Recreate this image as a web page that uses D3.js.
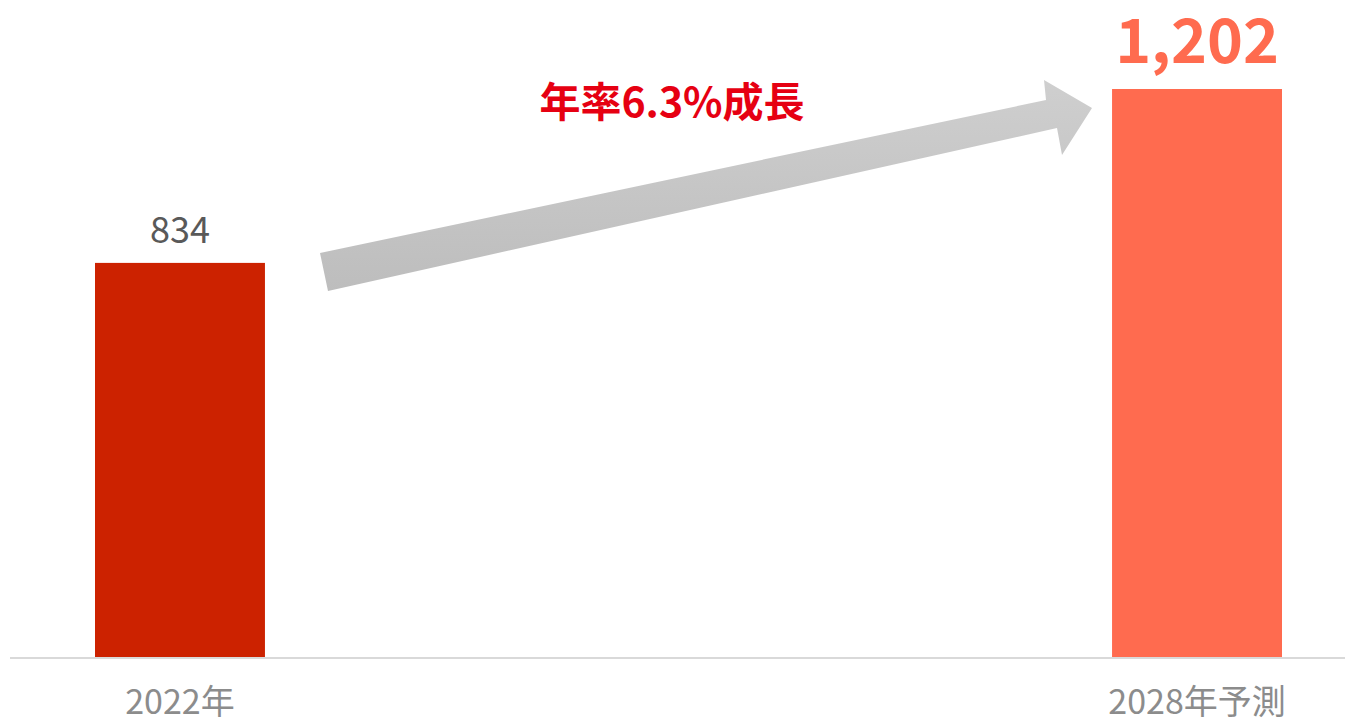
<!DOCTYPE html>
<html><head><meta charset="utf-8">
<script src="https://cdn.jsdelivr.net/npm/d3@7"></script>
<style>body{margin:0;background:#fff;}svg{display:block;}</style>
</head><body>
<svg id="c" width="1345" height="719"></svg>
<script>
const categories = ["2022年", "2028年予測"];
const values = [834, 1202];
const valueLabels = ["834", "1,202"];
const barColors = ["#CC2200", "#FF6B4F"];
const growthLabel = "年率6.3%成長";

const svg = d3.select("#c");
const font = "'Noto Sans CJK JP', 'Noto Sans', sans-serif";

const x = d3.scaleBand().domain(categories).range([95, 1282]).paddingInner(0.8329).paddingOuter(0);
const y = d3.scaleLinear().domain([0, 1202]).range([657, 89]);

const defs = svg.append("defs");
const g = defs.append("linearGradient").attr("id","ag").attr("x1","0").attr("y1","0").attr("x2","0").attr("y2","1");
g.append("stop").attr("offset","0").attr("stop-color","#cfcfcf");
g.append("stop").attr("offset","1").attr("stop-color","#bdbdbd");

// bars
svg.selectAll("rect.bar").data(values).join("rect")
  .attr("class","bar")
  .attr("x",(d,i)=>x(categories[i]))
  .attr("width",x.bandwidth())
  .attr("y",d=>y(d))
  .attr("height",d=>y(0)-y(d))
  .attr("fill",(d,i)=>barColors[i]);

// axis baseline
svg.append("line").attr("x1",10).attr("x2",1345).attr("y1",y(0)+1).attr("y2",y(0)+1)
  .attr("stroke","#d9d9d9").attr("stroke-width",2);

// category labels
svg.selectAll("text.cat").data(categories).join("text")
  .attr("class","cat")
  .attr("x",d=>x(d)+x.bandwidth()/2)
  .attr("y",714)
  .attr("text-anchor","middle")
  .attr("font-family",font)
  .attr("font-size",34)
  .attr("fill","#8c8c8c")
  .text(d=>d);

// value labels
svg.append("text")
  .attr("x",x(categories[0])+x.bandwidth()/2)
  .attr("y",y(values[0])-20)
  .attr("text-anchor","middle")
  .attr("font-family",font).attr("font-size",36).attr("fill","#595959")
  .text(valueLabels[0]);
svg.append("text")
  .attr("x",x(categories[1])+x.bandwidth()/2)
  .attr("y",y(values[1])-26)
  .attr("text-anchor","middle")
  .attr("font-family",font).attr("font-size",61).attr("font-weight","bold").attr("fill","#FF6B4F")
  .text(valueLabels[1]);

// arrow
const arrowPts = [[320,253],[1046,100],[1044,80],[1092,108],[1062,155],[1057,128],[328,291]];
svg.append("path").attr("d", d3.line()(arrowPts)+"Z").attr("fill","url(#ag)");

// growth label
svg.append("text")
  .attr("x",672).attr("y",117)
  .attr("text-anchor","middle")
  .attr("font-family",font).attr("font-size",41).attr("font-weight","bold").attr("fill","#E60012")
  .text(growthLabel);
</script>
</body></html>
